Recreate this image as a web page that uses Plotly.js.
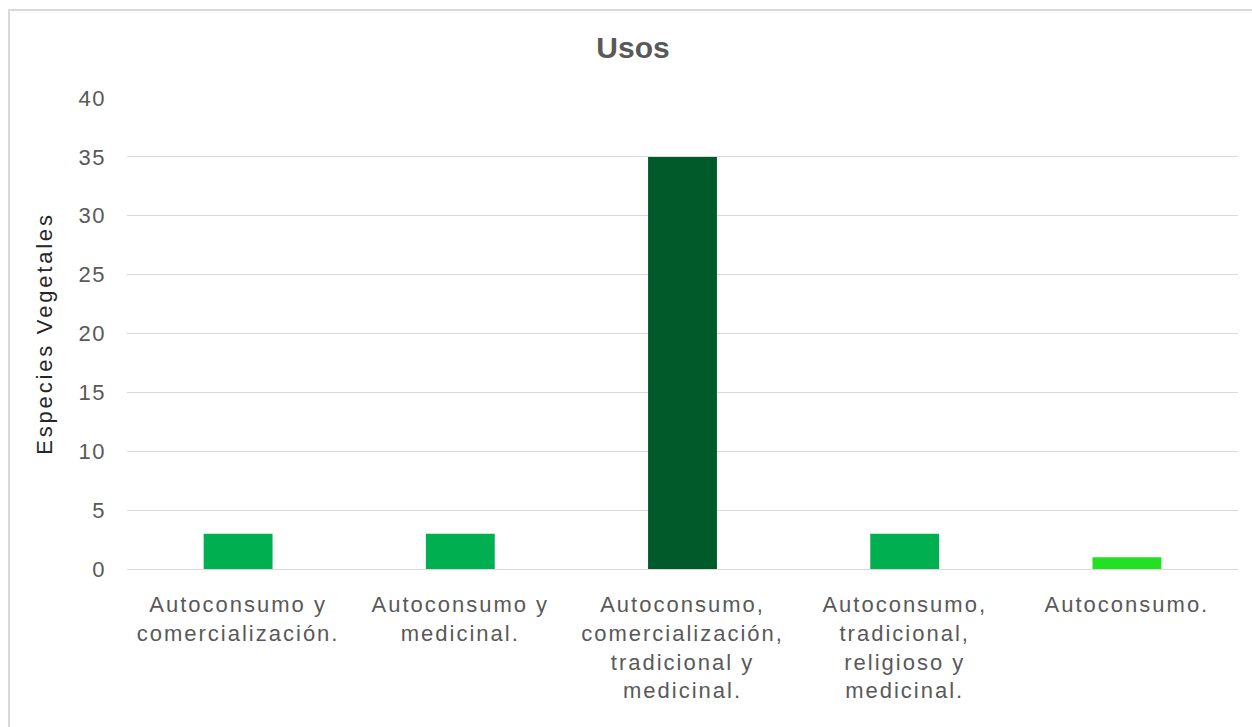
<!DOCTYPE html>
<html>
<head>
<meta charset="utf-8">
<script src="https://cdn.plot.ly/plotly-3.0.1.min.js"></script>
<style>
  html, body { margin: 0; padding: 0; background: #ffffff; overflow: hidden; }
  #frame {
    position: absolute; left: 8px; top: 9px; width: 1260px; height: 740px;
    border-left: 2px solid #d9d9d9; border-top: 2px solid #d9d9d9;
    pointer-events: none; z-index: 5;
  }
  #chart { position: absolute; left: 0; top: 0; width: 1252px; height: 727px; }
  #chart .xtick text { letter-spacing: 2px; }
  #chart .ytick text { letter-spacing: 1.5px; }
  #chart .ytitle { letter-spacing: 2.8px; }
</style>
</head>
<body>
<div id="frame"></div>
<div id="chart"></div>
<script>
// Uses of the plant species and how many species fall under each
const categories = [
  "Autoconsumo y<br>comercialización.",
  "Autoconsumo y<br>medicinal.",
  "Autoconsumo,<br>comercialización,<br>tradicional y<br>medicinal.",
  "Autoconsumo,<br>tradicional,<br>religioso y<br>medicinal.",
  "Autoconsumo."
];
const especies = [3, 3, 35, 3, 1];
const barColors = ["#00b050", "#00b050", "#005a2a", "#00b050", "#22e022"];
const yTicks = [0, 5, 10, 15, 20, 25, 30, 35, 40];

const fontFamily = "'Liberation Sans', Arial, sans-serif";

const trace = {
  type: "bar",
  x: categories,
  y: especies,
  width: 0.31,
  marker: { color: barColors, line: { width: 0 } },
  hoverinfo: "x+y"
};

const layout = {
  width: 1252,
  height: 727,
  paper_bgcolor: "rgba(0,0,0,0)",
  plot_bgcolor: "#ffffff",
  margin: { l: 127, r: 14, t: 98, b: 158 },
  showlegend: false,
  bargap: 0.69,
  title: {
    text: "<b>Usos</b>",
    font: { family: fontFamily, size: 30, color: "#595959" },
    xref: "container",
    x: 0.5056,
    xanchor: "center",
    yref: "container",
    y: 0.934,
    yanchor: "middle"
  },
  xaxis: {
    type: "category",
    tickfont: { family: fontFamily, size: 22, color: "#595959" },
    ticks: "",
    showgrid: false,
    showline: true,
    linecolor: "#d9d9d9",
    linewidth: 1,
    ticklabelstandoff: 16,
    automargin: false
  },
  yaxis: {
    range: [0, 40],
    tickvals: yTicks,
    ticktext: yTicks.map(String),
    tickfont: { family: fontFamily, size: 22, color: "#595959" },
    ticks: "",
    ticklabelstandoff: 20,
    showgrid: true,
    gridcolor: "#d9d9d9",
    gridwidth: 1,
    zeroline: false,
    showline: false,
    automargin: false,
    title: {
      text: "Especies Vegetales",
      font: { family: fontFamily, size: 22, color: "#262626" },
      standoff: 22
    }
  }
};

Plotly.newPlot("chart", [trace], layout, { staticPlot: true, displayModeBar: false });
</script>
</body>
</html>
